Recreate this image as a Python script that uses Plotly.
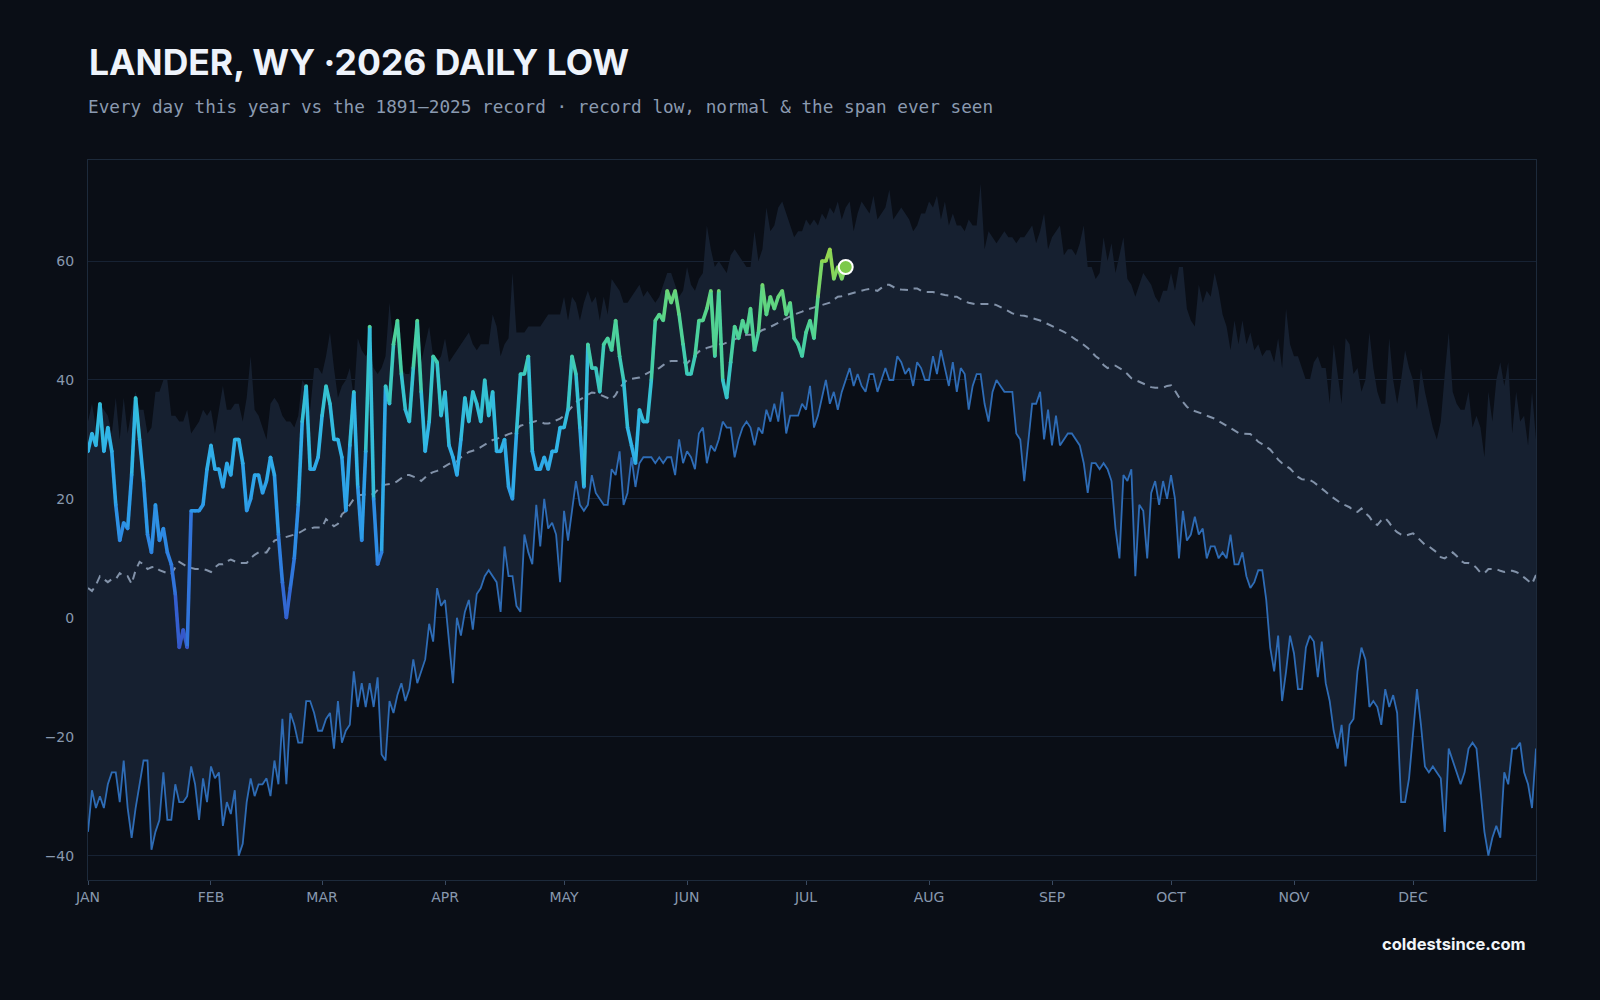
import plotly.graph_objects as go
from plotly.colors import sample_colorscale

# ---------------- data ----------------
month_ticks = [0, 31, 59, 90, 120, 151, 181, 212, 243, 273, 304, 334]
month_labels = ["JAN", "FEB", "MAR", "APR", "MAY", "JUN", "JUL", "AUG", "SEP", "OCT", "NOV", "DEC"]

# 2026 daily lows (Jan 1 ..)
low_2026 = [
    28, 31, 29, 36, 28, 32, 28, 19, 13, 16,
    15, 24, 37, 30, 23, 14, 11, 19, 13, 15,
    11, 9, 4, -5, -2, -5, 18, 18, 18, 19,
    25, 29, 25, 25, 22, 26, 24, 30, 30, 26,
    18, 20, 24, 24, 21, 23, 27, 24, 14, 6,
    0, 5, 10, 19, 33, 39, 25, 25, 27, 34,
    39, 36, 30, 30, 27, 18, 29, 38, 22, 13,
    28, 49, 20, 9, 11, 39, 36, 46, 50, 41,
    35, 33, 42, 50, 38, 28, 33, 44, 43, 34,
    38, 29, 27, 24, 30, 37, 33, 38, 36, 33,
    40, 34, 38, 28, 28, 30, 22, 20, 31, 41,
    41, 44, 28, 25, 25, 27, 25, 28, 28, 32,
    32, 35, 44, 41, 32, 22, 46, 42, 42, 38,
    46, 47, 45, 50, 44, 40, 32, 29, 26, 35,
    33, 33, 40, 50, 51, 50, 55, 53, 55, 51,
    46, 41, 41, 44, 50, 50, 52, 55, 44, 55,
    40, 37, 43, 49, 47, 50, 48, 52, 45, 48,
    56, 51, 54, 52, 54, 55, 51, 53, 47, 46,
    44, 48, 50, 47, 54, 60, 60, 62, 57, 59,
    57, 59,
]

# record low of the daily low, 1891-2025
record_low = [
    -36, -29, -32, -30, -32, -28, -26, -26, -31, -24,
    -32, -37, -32, -28, -24, -24, -39, -36, -34, -26,
    -34, -34, -28, -31, -31, -30, -25, -28, -34, -27,
    -31, -25, -27, -26, -35, -31, -33, -29, -40, -38,
    -31, -27, -30, -28, -28, -27, -30, -24, -28, -17,
    -28, -16, -18, -21, -21, -14, -14, -16, -19, -19,
    -17, -16, -22, -14, -21, -19, -18, -9, -15, -11,
    -15, -11, -15, -10, -23, -24, -14, -16, -13, -11,
    -14, -12, -7, -11, -9, -7, -1, -4, 5, 2,
    3, -4, -11, 0, -3, 1, 3, -2, 4, 5,
    7, 8, 7, 6, 1, 12, 7, 7, 2, 1,
    14, 11, 9, 19, 12, 20, 15, 16, 14, 6,
    18, 13, 18, 23, 19, 18, 19, 24, 21, 20,
    19, 19, 25, 24, 28, 19, 21, 27, 22, 26,
    27, 27, 27, 26, 27, 26, 27, 27, 24, 30,
    26, 28, 27, 25, 31, 32, 26, 29, 28, 30,
    33, 32, 32, 27, 30, 32, 33, 32, 29, 32,
    31, 35, 33, 36, 33, 38, 31, 34, 34, 34,
    36, 35, 39, 32, 34, 37, 40, 36, 38, 35,
    38, 40, 42, 39, 41, 39, 38, 41, 41, 38,
    40, 42, 40, 40, 44, 43, 41, 42, 39, 43,
    42, 40, 40, 44, 41, 45, 42, 39, 43, 38,
    42, 41, 35, 39, 41, 41, 36, 33, 38, 40,
    39, 38, 38, 38, 31, 30, 23, 30, 36, 36,
    38, 30, 35, 29, 34, 29, 30, 31, 31, 30,
    29, 26, 21, 26, 26, 25, 26, 25, 23, 15,
    10, 24, 23, 25, 7, 19, 18, 10, 21, 23,
    19, 23, 20, 24, 20, 10, 18, 13, 14, 17,
    14, 15, 10, 12, 12, 10, 11, 10, 14, 9,
    9, 11, 7, 5, 6, 8, 8, 3, -5, -9,
    -3, -14, -9, -3, -6, -12, -12, -5, -3, -4,
    -10, -4, -11, -14, -19, -22, -18, -25, -18, -17,
    -9, -5, -7, -15, -14, -15, -18, -12, -15, -13,
    -16, -31, -31, -27, -19, -12, -18, -25, -26, -25,
    -26, -27, -36, -22, -24, -26, -28, -26, -22, -21,
    -22, -29, -36, -40, -37, -35, -37, -26, -28, -22,
    -22, -21, -26, -28, -32, -22,
]

# record high of the daily low, 1891-2025 (top of the span)
record_high = [
    33, 36, 32, 36, 35, 34, 31, 37, 30, 37,
    31, 35, 38, 35, 35, 31, 32, 38, 38, 40,
    40, 34, 34, 33, 33, 35, 31, 32, 33, 35,
    34, 35, 31, 35, 39, 35, 35, 36, 36, 33,
    37, 44, 35, 34, 32, 30, 36, 37, 36, 34,
    33, 33, 32, 34, 40, 39, 35, 42, 42, 41,
    44, 48, 42, 37, 39, 40, 42, 37, 47, 45,
    44, 45, 42, 41, 42, 44, 53, 46, 48, 42,
    41, 41, 45, 50, 43, 46, 49, 44, 43, 44,
    47, 43, 44, 45, 46, 47, 48, 46, 45, 46,
    46, 46, 51, 49, 44, 46, 47, 58, 48, 48,
    48, 49, 49, 49, 49, 50, 51, 51, 51, 51,
    54, 50, 54, 53, 50, 53, 55, 53, 54, 50,
    54, 51, 57, 56, 55, 53, 53, 54, 55, 56,
    54, 55, 54, 53, 54, 56, 58, 58, 56, 54,
    55, 59, 56, 55, 57, 58, 66, 62, 59, 60,
    59, 58, 61, 62, 61, 60, 59, 59, 65, 60,
    62, 69, 65, 66, 69, 70, 68, 66, 64, 65,
    65, 67, 66, 67, 66, 68, 67, 69, 68, 70,
    67, 69, 70, 65, 68, 70, 69, 68, 71, 67,
    68, 69, 72, 67, 68, 69, 68, 67, 65, 66,
    68, 68, 70, 69, 71, 67, 70, 66, 68, 66,
    66, 65, 67, 66, 66, 73, 62, 65, 64, 63,
    64, 65, 64, 64, 63, 64, 64, 65, 66, 63,
    65, 68, 62, 64, 65, 66, 61, 62, 62, 61,
    63, 66, 59, 59, 57, 58, 64, 60, 63, 58,
    61, 64, 57, 56, 54, 56, 58, 57, 56, 54,
    53, 55, 55, 58, 55, 59, 59, 52, 50, 49,
    56, 53, 55, 54, 58, 55, 51, 49, 45, 50,
    46, 50, 46, 48, 45, 46, 44, 45, 45, 43,
    47, 42, 52, 46, 44, 44, 42, 40, 40, 43,
    44, 42, 42, 36, 46, 41, 36, 47, 46, 41,
    42, 38, 40, 48, 42, 38, 36, 36, 47, 40,
    36, 40, 45, 42, 40, 35, 42, 38, 35, 32,
    30, 33, 41, 48, 38, 36, 35, 35, 38, 32,
    34, 32, 27, 38, 33, 40, 43, 39, 43, 31,
    38, 33, 34, 29, 38, 30,
]

# normal daily low
normal_low = [
    5, 4.5, 5.5, 7, 6.5, 6, 6.5, 6.5, 7.5, 7,
    7, 5.7, 8, 9.4, 9, 8.2, 8.5, 8.6, 8, 7.7,
    7.5, 7.3, 8.5, 9.4, 9, 8.6, 8.4, 8.2, 8.2, 8.2,
    8, 7.7, 8.5, 9, 9, 9.5, 9.8, 9.5, 9.2, 9.2,
    9.2, 10, 10.6, 11, 11, 11, 12, 13, 13.2, 13.4,
    13.6, 13.8, 14, 14.2, 14.6, 15, 15, 15.2, 15.2, 15.2,
    16.6, 16, 15.4, 15.8, 17.4, 18, 19, 20, 20.6, 20.7,
    20.8, 20.8, 20.8, 21.5, 22.2, 22.4, 22.5, 22.6, 23, 23.5,
    24, 24, 23.7, 23.5, 23, 23.6, 24.2, 24.5, 24.7, 25.1,
    25.5, 25.9, 26.1, 26.3, 27, 27.5, 27.9, 28.1, 28.3, 28.7,
    29.1, 29.5, 29.9, 30.1, 30.3, 30.6, 30.9, 31.1, 31.7, 32.3,
    32.5, 32.7, 32.9, 33.1, 33, 32.7, 32.7, 32.8, 33.2, 33.5,
    34, 34.7, 35.5, 36.3, 36.7, 37, 37.5, 37.9, 37.8, 37.5,
    37.2, 37, 36.7, 37.5, 38.7, 39.4, 40.1, 40.2, 40.3, 40.4,
    40.8, 41.2, 41.5, 41.8, 42, 42.5, 43, 43.2, 43.2, 43.2,
    43, 42.8, 43.5, 44.2, 44.8, 45, 45.4, 45.6, 45.8, 46,
    46, 46.3, 46.6, 46.8, 47.1, 47.4, 47.6, 47.6, 47.6, 48,
    48.4, 48.6, 48.9, 49.2, 49.6, 50, 50.4, 50.7, 51, 51.2,
    51.5, 51.8, 52, 52.2, 52.4, 52.6, 52.8, 53, 53.5, 54,
    54.1, 54.3, 54.4, 54.6, 54.8, 55, 55.2, 55.3, 55.2, 55,
    55.5, 56, 56, 55.6, 55.3, 55.2, 55.1, 55.1, 55.4, 55.4,
    55, 54.8, 54.8, 54.8, 54.6, 54.4, 54.3, 54.2, 54, 54,
    53.6, 53.2, 53, 52.8, 52.7, 52.8, 52.8, 52.8, 52.8, 52.6,
    52.3, 52, 51.6, 51.2, 51, 50.9, 50.8, 50.6, 50.4, 50.3,
    50, 49.7, 49.4, 49.1, 48.8, 48.5, 48.1, 47.7, 47.2, 46.8,
    46.4, 45.9, 45.4, 44.7, 44, 43.5, 42.5, 42, 42.3, 42.4,
    42, 41.6, 41, 40.3, 40, 39.7, 39.5, 39.2, 38.8, 38.7,
    38.7, 38.7, 39, 39.1, 38.2, 37.1, 36.3, 35.5, 35, 34.8,
    34.5, 34.3, 34, 33.8, 33.5, 33.1, 32.7, 32.2, 31.8, 31.4,
    31.1, 31, 30.9, 30.9, 30.3, 29.6, 29.2, 28.8, 28.3, 27.5,
    26.6, 26, 25.5, 25.1, 24.4, 23.7, 23.3, 23.2, 23.2, 22.8,
    22.3, 21.8, 21.2, 20.6, 20.1, 19.6, 19.2, 18.9, 18.6, 18,
    17.8, 18.4, 17.6, 17, 16, 15.6, 16.4, 16.8, 16, 15,
    14.4, 14, 13.8, 14, 14.2, 13.6, 13, 12.3, 12, 11.5,
    11, 10.2, 10, 10.5, 11, 10.4, 9.6, 9.2, 9.2, 9,
    8.4, 7.6, 7.5, 8.2, 8.2, 8.2, 7.9, 7.7, 7.9, 7.9,
    7.7, 7.4, 6.8, 6.3, 5.7, 7.2,
]

days = list(range(len(record_low)))
days_2026 = list(range(len(low_2026)))

# ---------------- style ----------------
BG = "#0a0e16"
BAND = "#162030"
GRID = "#172233"
FRAME = "#1d2a3b"
TICK_TXT = "#8898ae"
LOW_LINE = "#2e6cb6"
NORMAL_LINE = "#8292a9"

V_MIN, V_MAX = -10, 65
temp_scale = [
    [0.000, "#3a4cbe"],
    [(0 - V_MIN) / 75, "#345fcf"],
    [(10 - V_MIN) / 75, "#2f7fe0"],
    [(20 - V_MIN) / 75, "#2d9de9"],
    [(30 - V_MIN) / 75, "#31b5e7"],
    [(38 - V_MIN) / 75, "#36c4d0"],
    [(45 - V_MIN) / 75, "#45cfa6"],
    [(52 - V_MIN) / 75, "#5ad588"],
    [(60 - V_MIN) / 75, "#8ed653"],
    [1.000, "#b0d844"],
]


def norm(v):
    return min(1.0, max(0.0, (v - V_MIN) / (V_MAX - V_MIN)))


def py(px):
    """pixel row (from top of page) -> paper y"""
    return (880 - px) / 720


fig = go.Figure()

# span ever seen (band between record low and record high)
fig.add_trace(go.Scatter(x=days, y=record_high, mode="lines", line=dict(width=0, color=BAND),
                         hoverinfo="skip", showlegend=False))
fig.add_trace(go.Scatter(x=days, y=record_low, mode="lines", line=dict(width=0, color=BAND),
                         fill="tonexty", fillcolor=BAND, hoverinfo="skip", showlegend=False))

# record low line
fig.add_trace(go.Scatter(x=days, y=record_low, mode="lines",
                         line=dict(width=1.8, color=LOW_LINE), name="Record low", showlegend=False))

# normal
fig.add_trace(go.Scatter(x=days, y=normal_low, mode="lines",
                         line=dict(width=2, color=NORMAL_LINE, dash="8px,6px"),
                         name="Normal", showlegend=False))

# 2026 line, coloured by temperature
for i in range(len(low_2026) - 1):
    mid = (low_2026[i] + low_2026[i + 1]) / 2
    col = sample_colorscale(temp_scale, [norm(mid)])[0]
    fig.add_trace(go.Scatter(x=days_2026[i:i + 2], y=low_2026[i:i + 2], mode="lines",
                             line=dict(width=3.6, color=col), hoverinfo="skip", showlegend=False))
fig.add_trace(go.Scatter(x=days_2026, y=low_2026, mode="markers",
                         marker=dict(size=3.6, color=low_2026, colorscale=temp_scale,
                                     cmin=V_MIN, cmax=V_MAX, line=dict(width=0)),
                         hoverinfo="skip", showlegend=False))

# latest day marker
fig.add_trace(go.Scatter(x=[days_2026[-1]], y=[low_2026[-1]], mode="markers",
                         marker=dict(size=14, color="#7cc94a", line=dict(color="#ffffff", width=2)),
                         showlegend=False))

fig.update_layout(
    width=1600, height=1000,
    paper_bgcolor=BG, plot_bgcolor=BG,
    margin=dict(l=88, r=64, t=160, b=120),
    showlegend=False,
    font=dict(family="DejaVu Sans", color=TICK_TXT, size=14),
)
fig.update_xaxes(
    range=[0, 365], tickvals=month_ticks, ticktext=month_labels,
    showgrid=False, zeroline=False,
    showline=True, mirror=True, linecolor=FRAME, linewidth=1,
    ticks="outside", ticklen=4, tickcolor="#3a4a60",
    tickfont=dict(family="DejaVu Sans", size=14, color=TICK_TXT),
)
fig.update_yaxes(
    range=[-44.1, 77], tickvals=[-40, -20, 0, 20, 40, 60],
    ticktext=["\u221240", "\u221220", "0", "20", "40", "60"],
    showgrid=True, gridcolor=GRID, gridwidth=1, zeroline=False,
    showline=True, mirror=True, linecolor=FRAME, linewidth=1,
    ticks="", ticklabelstandoff=10,
    tickfont=dict(family="DejaVu Sans", size=14, color=TICK_TXT),
)

fig.add_annotation(text="<b>LANDER, WY \u00b72026 DAILY LOW</b>", xref="paper", yref="paper",
                   x=-0.0005, y=py(86), xanchor="left", yanchor="bottom",
                   showarrow=False, font=dict(family="Inter", size=35.5, color="#eef3fb"))
fig.add_annotation(text="Every day this year vs the 1891\u20132025 record \u00b7 record low, normal &amp; the span ever seen",
                   xref="paper", yref="paper", x=-0.0012, y=py(119),
                   xanchor="left", yanchor="bottom", showarrow=False,
                   font=dict(family="DejaVu Sans Mono", size=17.7, color="#8a9ab0"))
fig.add_annotation(text="<b>coldestsince.com</b>", xref="paper", yref="paper",
                   x=(1528 - 88) / 1448, y=py(956), xanchor="right", yanchor="bottom",
                   showarrow=False, font=dict(family="Inter", size=16.5, color="#f1f4f8"))

fig.write_html("out.html")
